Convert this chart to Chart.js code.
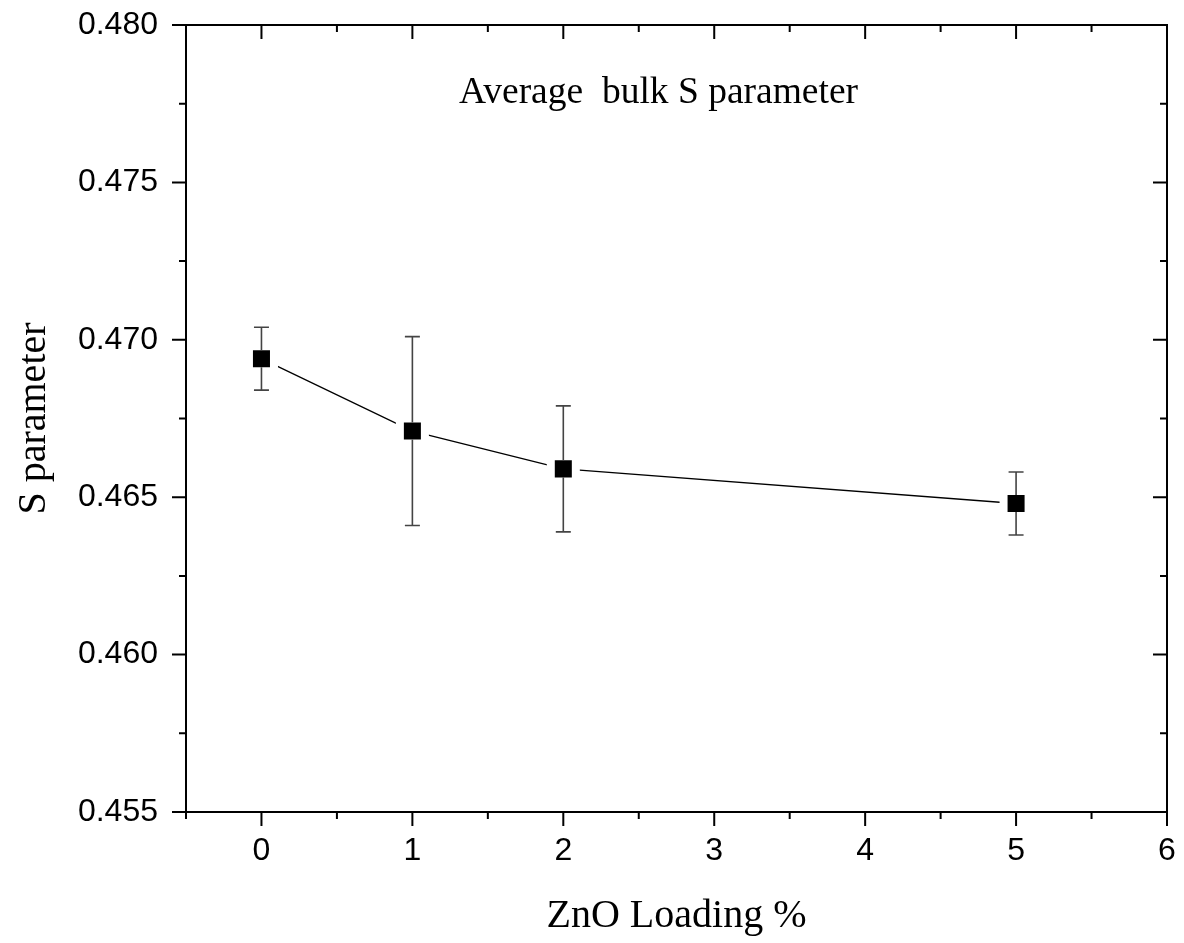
<!DOCTYPE html>
<html>
<head>
<meta charset="utf-8">
<title>Average bulk S parameter</title>
<script src="https://cdn.jsdelivr.net/npm/chart.js@4/dist/chart.umd.min.js"></script>
<style>
  html, body { margin: 0; padding: 0; background: #fff; overflow: hidden; }
  #wrap { width: 1184px; height: 943px; position: relative; }
  #sChart { display: block; }
</style>
</head>
<body>
<div id="wrap"><canvas id="sChart"></canvas></div>
<script>
// ZnO loading (%) and measured average bulk S parameter with error
const loading = [0, 1, 2, 5];
const sParam = [0.4694, 0.4671, 0.4659, 0.4648];
const sErr = [0.001, 0.003, 0.002, 0.001];

// axis ticks
const xMajor = [0, 1, 2, 3, 4, 5, 6];
const xMinor = [-0.5, 0.5, 1.5, 2.5, 3.5, 4.5, 5.5];
const yMajor = [0.455, 0.460, 0.465, 0.470, 0.475, 0.480];
const yMinor = [0.4575, 0.4625, 0.4675, 0.4725, 0.4775];

const noteText = 'Average  bulk S parameter';

const SANS = '"Liberation Sans", Arial, sans-serif';
const SERIF = '"Liberation Serif", "Times New Roman", serif';

// frame with ticks: outward on bottom/left, inward on top/right
const frameTicks = {
    id: 'frameTicks',
    afterDraw(chart) {
        const { ctx, chartArea: a, scales: { x, y } } = chart;
        const MAJ = 14, MIN = 7;
        ctx.save();
        ctx.strokeStyle = '#000';
        ctx.lineWidth = 2;
        ctx.strokeRect(a.left, a.top, a.right - a.left, a.bottom - a.top);
        ctx.beginPath();
        const xt = (vals, len) => vals.forEach(v => {
            const px = x.getPixelForValue(v);
            ctx.moveTo(px, a.bottom); ctx.lineTo(px, a.bottom + len);
            ctx.moveTo(px, a.top); ctx.lineTo(px, a.top + len);
        });
        const yt = (vals, len) => vals.forEach(v => {
            const py = y.getPixelForValue(v);
            ctx.moveTo(a.left, py); ctx.lineTo(a.left - len, py);
            ctx.moveTo(a.right, py); ctx.lineTo(a.right - len, py);
        });
        xt(xMajor, MAJ); xt(xMinor, MIN);
        yt(yMajor, MAJ); yt(yMinor, MIN);
        ctx.stroke();

        ctx.fillStyle = '#000';
        ctx.font = '37.5px ' + SERIF;
        ctx.textAlign = 'center';
        ctx.textBaseline = 'alphabetic';
        ctx.fillText(noteText, (a.left + a.right) / 2 - 18, a.top + 78);
        ctx.restore();
    }
};

// vertical error bars, starting at the marker edge
const errorBars = {
    id: 'errorBars',
    afterDatasetsDraw(chart) {
        const { ctx, scales: { y } } = chart;
        const meta = chart.getDatasetMeta(0);
        const half = 8.5, cap = 7.5;
        ctx.save();
        ctx.strokeStyle = '#444';
        ctx.lineWidth = 1.6;
        meta.data.forEach((pt, i) => {
            const hi = y.getPixelForValue(sParam[i] + sErr[i]);
            const lo = y.getPixelForValue(sParam[i] - sErr[i]);
            ctx.beginPath();
            ctx.moveTo(pt.x, pt.y - half); ctx.lineTo(pt.x, hi);
            ctx.moveTo(pt.x - cap, hi); ctx.lineTo(pt.x + cap, hi);
            ctx.moveTo(pt.x, pt.y + half); ctx.lineTo(pt.x, lo);
            ctx.moveTo(pt.x - cap, lo); ctx.lineTo(pt.x + cap, lo);
            ctx.stroke();
        });
        ctx.restore();
    }
};

const ctx = document.getElementById('sChart').getContext('2d');
new Chart(ctx, {
    type: 'scatter',
    data: {
        datasets: [{
            data: loading.map((v, i) => ({ x: v, y: sParam[i] })),
            showLine: true,
            borderColor: '#000',
            borderWidth: 1.3,
            pointStyle: 'rect',
            pointRadius: 17.7,
            pointBackgroundColor: '#000',
            pointBorderColor: '#fff',
            pointBorderWidth: 8,
            clip: false
        }]
    },
    options: {
        responsive: true,
        maintainAspectRatio: false,
        animation: false,
        events: [],
        layout: { autoPadding: false, padding: { top: 25, right: 17, left: 0, bottom: 0 } },
        plugins: { legend: { display: false }, tooltip: { enabled: false } },
        scales: {
            x: {
                type: 'linear',
                min: -0.5,
                max: 6,
                afterBuildTicks: s => { s.ticks = xMajor.map(v => ({ value: v })); },
                afterFit: s => { s.height = 131; s.paddingLeft = 0; s.paddingRight = 0; },
                grid: { display: false, drawTicks: false },
                border: { display: false },
                ticks: {
                    padding: 20,
                    color: '#000',
                    font: { family: SANS, size: 32 },
                    maxRotation: 0,
                    callback: v => String(v)
                },
                title: {
                    display: true,
                    text: 'ZnO Loading %',
                    color: '#000',
                    font: { family: SERIF, size: 40 },
                    padding: { bottom: 3 }
                }
            },
            y: {
                type: 'linear',
                min: 0.455,
                max: 0.480,
                afterBuildTicks: s => { s.ticks = yMajor.map(v => ({ value: v })); },
                afterFit: s => { s.width = 186; s.paddingTop = 0; s.paddingBottom = 0; },
                grid: { display: false, drawTicks: false },
                border: { display: false },
                ticks: {
                    padding: 28,
                    color: '#000',
                    font: { family: SANS, size: 32 },
                    callback: v => v.toFixed(3)
                },
                title: {
                    display: true,
                    text: 'S parameter',
                    color: '#000',
                    font: { family: SERIF, size: 40 },
                    padding: { top: 10 }
                }
            }
        }
    },
    plugins: [errorBars, frameTicks]
});
</script>
</body>
</html>
